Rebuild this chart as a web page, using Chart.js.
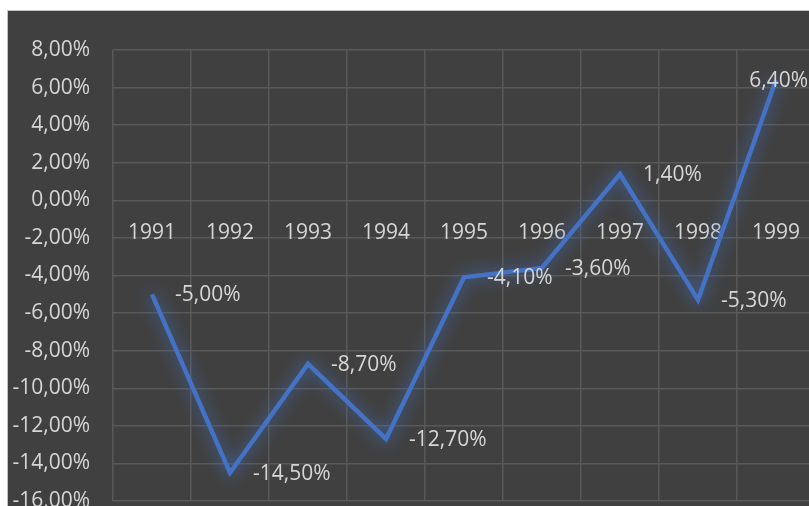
<!DOCTYPE html>
<html>
<head>
<meta charset="utf-8">
<script src="https://cdn.jsdelivr.net/npm/chart.js@4/dist/chart.umd.min.js"></script>
<style>
  html, body { margin: 0; padding: 0; background: #fff; overflow: hidden; width: 809px; height: 506px; }
  #frame { position: absolute; left: 7px; top: 10px; width: 801px; height: 495px; overflow: hidden;
           border-top: 1px solid #c4c4c4; border-left: 1px solid #c4c4c4; background: #404040; }
  #chart { display: block; background: #404040; }
</style>
</head>
<body>
<div id="frame"><canvas id="chart" width="820" height="495"></canvas></div>
<script>
// data
const years = ['1991', '1992', '1993', '1994', '1995', '1996', '1997', '1998', '1999'];
const returns = [-5.0, -14.5, -8.7, -12.7, -4.1, -3.6, 1.4, -5.3, 6.4];
const yMin = -16, yMax = 8, yStep = 2;

const textColor = '#d6d6d6';
const gridColor = '#595959';
const lineColor = '#4472C4';
const font = { family: '"Open Sans", "Noto Sans", sans-serif', size: 21 };

const pct = v => v.toFixed(2).replace('.', ',') + '%';

// soft blue halo around the line
const glow = {
    id: 'glow',
    beforeDatasetsDraw(chart) {
        const ctx = chart.ctx;
        ctx.save();
        ctx.shadowColor = 'rgba(68,114,196,1)';
        ctx.shadowBlur = 16;
    },
    afterDatasetsDraw(chart) { chart.ctx.restore(); }
};

// value labels to the right of each point (kept inside the visible frame)
const valueLabels = {
    id: 'valueLabels',
    afterDatasetsDraw(chart) {
        const ctx = chart.ctx;
        const meta = chart.getDatasetMeta(0);
        ctx.save();
        ctx.font = font.size + 'px ' + font.family;
        ctx.fillStyle = textColor;
        ctx.textAlign = 'left';
        ctx.textBaseline = 'middle';
        meta.data.forEach((pt, i) => {
            const txt = pct(returns[i]);
            const w = ctx.measureText(txt).width;
            let x = pt.x + 23;
            if (x + w > 800) x = 800 - w;
            ctx.fillText(txt, x, pt.y + 1);
        });
        ctx.restore();
    }
};

const noPad = s => { s.paddingTop = 0; s.paddingBottom = 0; s.paddingLeft = 0; s.paddingRight = 0; };

new Chart(document.getElementById('chart'), {
    type: 'line',
    data: {
        labels: years,
        datasets: [{
            data: returns,
            borderColor: lineColor,
            borderWidth: 4.5,
            pointRadius: 0,
            tension: 0,
            fill: false
        }]
    },
    options: {
        responsive: false,
        animation: false,
        layout: { padding: { top: 39, bottom: 5, right: 13, left: 0 } },
        plugins: { legend: { display: false }, tooltip: { enabled: false } },
        scales: {
            x: {
                position: { y: 0 },
                offset: true,
                grid: { color: gridColor, lineWidth: 1.5, offset: true, drawTicks: false },
                border: { display: false },
                ticks: { color: textColor, font: font, padding: 20, maxRotation: 0 },
                afterFit: s => { s.height = 0; noPad(s); }
            },
            y: {
                min: yMin, max: yMax,
                grid: { color: gridColor, lineWidth: 1.5, drawTicks: false },
                border: { display: false },
                ticks: { stepSize: yStep, color: textColor, font: font, padding: 23, callback: v => pct(v) },
                afterFit: s => { s.width = 105; noPad(s); }
            }
        }
    },
    plugins: [glow, valueLabels]
});
</script>
</body>
</html>
